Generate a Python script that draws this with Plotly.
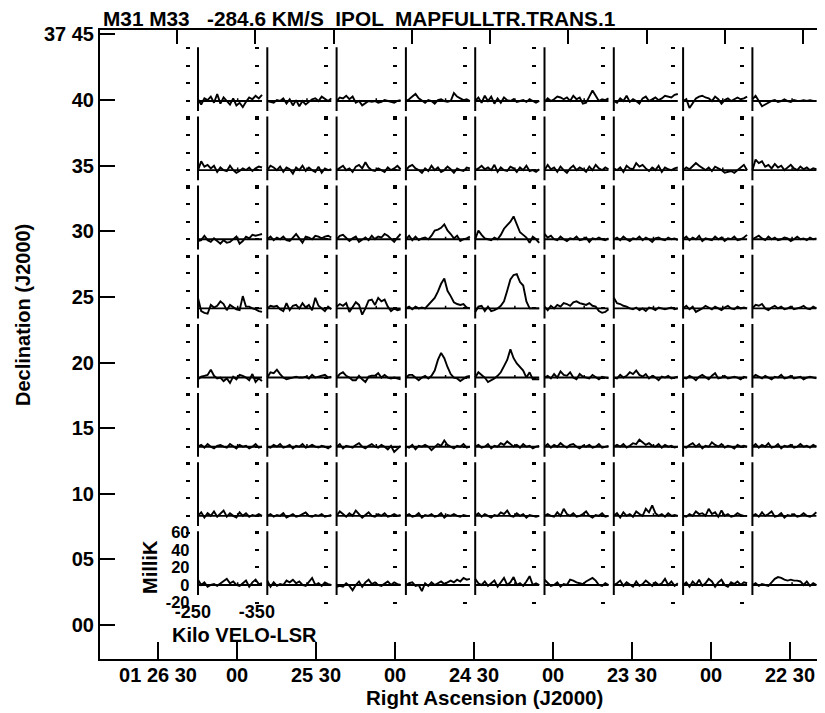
import plotly.graph_objects as go

# ---------------- data ----------------
TITLE = "M31 M33   -284.6 KM/S  IPOL  MAPFULLTR.TRANS.1"
RA_TICK_SEC = [1590, 1560, 1530, 1500, 1470, 1440, 1410, 1380, 1350]
RA_TICK_LABELS = ["01 26 30", "00", "25 30", "00", "24 30", "00", "23 30", "00", "22 30"]
DEC_TICK_MIN = [45, 40, 35, 30, 25, 20, 15, 10, 5, 0]
DEC_TICK_LABELS = ["37 45", "40", "35", "30", "25", "20", "15", "10", "05", "00"]
MK_TICKS = [-20, 0, 20, 40, 60]
MK_LABELS = ["-20", "0", "20", "40", "60"]
VEL_TICKS = [-250, -350]
VEL_LABELS = ["-250", "-350"]
VELOCITY = [-258, -263, -268, -273, -278, -283, -288, -293, -298, -303, -308,
            -313, -318, -323, -328, -333, -338, -343, -348, -353, -358]

SPEC_DEC40 = [
    [2, -4, 3, 1, 5, -2, 8, -3, 4, 0, -4, 3, -5, -2, -7, -1, 4, 2, 6, 3, 7],
    [0, -1, -2, 1, 0, 3, -3, 2, -5, 1, -6, 0, -4, -1, 2, 3, 0, 5, 2, 0, 3],
    [0, 4, 3, 6, 2, 5, -2, 0, -5, -2, 0, -1, 0, -2, -1, 1, 0, -1, -2, 0, 1],
    [0, 2, 5, 8, 3, 0, -2, 1, 0, -3, 1, 2, 0, -1, 0, 9, 5, 3, 1, 2, 0],
    [0, 4, -2, 6, 0, 5, -3, 3, -2, 4, 1, 0, 2, -1, 0, 1, -1, 2, 0, -2, 0],
    [-1, 3, 0, 2, 5, 4, 2, 4, 0, 6, 2, 4, -3, -2, 5, 12, 6, 0, 2, 1, 3],
    [0, -2, 3, 0, 6, -1, 2, 0, -3, 3, 5, 0, 2, 4, 1, 3, 6, 5, 4, 7, 8],
    [0, 2, -8, -2, 3, 5, 6, 4, 3, 0, 5, 2, -3, 1, 3, 0, 2, 4, 2, 3, 5],
    [2, 6, 0, -6, -4, -2, 0, 1, -1, 0, 2, 0, -1, 1, 0, 0, 1, 0, 1, 0, 0],
]
SPEC_DEC35 = [
    [0, 10, 4, 6, 2, 5, -2, 3, 0, -1, 5, 0, -3, -1, 2, 0, 3, -1, 2, 4, 3],
    [0, 5, 3, 0, 4, -2, 3, 1, -4, 3, 0, 5, -1, 3, 0, -2, 4, -3, 2, 0, 1],
    [0, 3, 5, 0, 2, -2, 4, 6, 2, 9, 3, 0, -1, 2, 0, -2, 3, 0, 2, 5, 1],
    [0, 4, 6, 2, 0, -3, 2, -1, 5, 0, 3, -2, 0, 4, 1, -3, 2, 0, -1, 3, 2],
    [0, 2, 5, 1, 3, 0, 6, -2, 3, 0, -1, 4, 2, -2, 3, 0, 5, -1, 0, -2, 1],
    [0, 6, 1, 3, -2, 4, 0, -3, 2, 5, 0, 3, 1, -2, 4, 0, 6, 2, 0, 3, 1],
    [2, 0, 3, -2, 5, 2, 1, 8, 4, 6, 2, -1, 3, 0, 5, -2, 3, 1, 0, 2, 3],
    [0, 3, 1, 4, 8, 5, 2, 0, 3, -1, 4, 2, 0, -3, -2, -1, -3, 0, 2, 6, 0],
    [0, 12, 8, 10, 4, 6, 2, 7, 3, 5, 0, 3, 6, 2, 0, 4, 1, 3, 0, 2, 1],
]
SPEC_DEC30 = [
    [-2, -1, 4, -1, -3, 1, -2, -5, -1, -4, -3, 0, 3, -5, -2, 3, 1, 5, 4, 5, 6],
    [0, 3, -1, 2, 0, 3, -1, -2, 2, 6, 1, -4, 3, 2, 0, 4, 3, 1, 3, 4, 2],
    [0, 4, 5, 2, -2, 1, 3, -3, 0, 2, -1, 4, 0, 3, 2, 6, 4, 0, -3, 2, 6],
    [0, 4, -1, 3, -1, 1, 2, 0, 4, 10, 11, 13, 17, 10, 6, 1, 4, -2, 0, 1, 3],
    [0, 10, 5, 1, 0, -1, 2, 0, 5, 12, 16, 20, 26, 17, 8, 5, 2, -4, 3, 0, -4],
    [6, 2, 4, 0, -1, 3, 0, -2, 1, 0, 3, -1, 0, 2, -3, 1, 0, 2, 0, -1, 1],
    [0, 2, -1, 3, 0, -2, 1, 0, 3, -1, 2, 0, -3, 1, 2, 0, -1, 2, 0, 1, -1],
    [0, 3, -1, 2, 0, 4, -2, 1, 0, -1, 3, 0, 2, -2, 1, 0, 3, -1, 0, 2, 5],
    [0, 2, 4, 1, -1, 3, 0, 2, -1, 0, 2, 1, -2, 0, 3, 0, 1, -1, 2, 0, 1],
]
SPEC_DEC25 = [
    [12, -3, -5, -6, 4, 1, 3, 8, 5, -2, 4, 1, -1, -2, 14, 2, 2, 0, -1, -3, -4],
    [0, 3, 2, 3, -1, -3, 6, -2, 3, 4, 0, 6, 1, 4, -2, 12, 3, 0, -3, 2, -1],
    [2, 5, 3, 6, -4, 2, 7, 4, -7, 0, 9, 10, 4, 12, 8, 10, 2, -3, 0, -2, -1],
    [0, 2, -1, 2, 0, 1, 0, 4, 7, 12, 19, 28, 34, 20, 14, 7, 5, 4, 5, 1, 0],
    [-4, 2, 3, -3, 2, -3, -2, 0, 3, 8, 20, 33, 38, 39, 30, 26, 8, 0, 0, 0, 0],
    [2, -2, 3, 0, 4, 2, 6, 5, 3, 7, 8, 6, 5, 4, 6, 3, 2, -3, -5, -4, -1],
    [12, 6, 5, 3, 2, 0, -1, 1, -2, 0, -3, 1, 0, -2, 1, 0, -1, 0, 1, -1, 0],
    [0, 3, -1, 2, -4, -2, 0, 3, 1, -1, 2, 0, -2, 1, 3, 0, -1, 2, 0, 1, 0],
    [0, 4, 3, 5, 0, -2, 1, 3, 0, 2, -1, 0, 2, -1, 0, 1, 3, 0, -1, 2, 0],
]
SPEC_DEC20 = [
    [-2, 1, 2, 3, 9, 2, -1, 0, -4, -1, -6, 1, -2, 3, 2, 0, -3, 4, -5, -1, -4],
    [0, 6, 5, 9, 4, 0, -2, -1, 0, 1, 0, 0, 1, -1, 3, 0, 1, 2, 3, 0, 1],
    [0, 4, 6, 2, 0, -3, -3, 2, -2, -5, 1, 2, 2, 5, 0, 3, 0, -1, 0, -1, -2],
    [0, 3, 3, 0, -3, 0, 2, -1, 2, 8, 20, 28, 22, 12, 4, 0, -1, -4, -1, 1, 2],
    [0, 6, 3, 0, -5, -3, -1, 2, 6, 13, 20, 32, 22, 16, 12, 8, 0, 6, -2, -2, -2],
    [0, 2, -1, 4, 0, 7, 3, 2, 6, 0, -2, 4, 1, 0, -1, 3, 0, -2, 1, 0, -1],
    [0, -1, 3, 0, 2, 6, 4, 8, 3, 1, 4, -1, 2, 0, -3, 1, 0, 2, -1, 0, 1],
    [0, -1, 2, 0, -3, 1, 3, 0, -2, 2, 5, -1, 0, 2, -1, 0, 1, 0, -2, 1, 0],
    [0, 3, 1, -1, 2, 0, -2, 1, 0, 3, -1, 0, 2, -1, 0, 1, -2, 0, 1, 0, -1],
]
SPEC_DEC15 = [
    [0, 2, -1, 3, 0, -2, 1, 2, 0, -1, 3, 0, -2, 2, 0, 1, -2, 0, 3, -1, 0],
    [0, -1, 2, 0, 3, -1, 0, 2, -2, 1, 0, 3, -1, 0, 2, 0, -1, 1, 0, -2, 1],
    [0, 3, -2, 1, 0, -1, 2, 4, 0, -2, 1, 3, 0, -1, 2, 0, -3, 1, -6, -2, 1],
    [0, -1, 2, -3, 1, 0, 2, 0, -4, -1, 3, 1, 7, 2, 0, -2, 1, 0, 3, -1, 0],
    [0, 2, -1, 0, 3, -2, 1, 0, 4, 2, 6, 3, 0, 2, -1, 3, 0, 1, -2, 0, 1],
    [0, 3, -1, 2, 0, 4, 1, -1, 2, 3, 0, -2, 1, 0, 2, -1, 0, 3, -1, 0, 1],
    [0, 2, 0, 3, -1, 1, 4, 3, 8, 5, 2, 4, 1, 0, 3, -1, 2, 0, 1, -1, 0],
    [0, -1, 2, 4, 0, 3, -2, 1, 0, 5, 2, 0, 3, -1, 1, 0, -2, 2, 0, 1, 0],
    [0, 3, -1, 2, 0, 4, -1, 0, 3, -2, 1, 0, 2, -1, 0, 3, 0, 1, -1, 2, 0],
]
SPEC_DEC10 = [
    [0, 4, -2, 3, 0, 5, -1, 2, 6, -1, 3, 0, -2, 4, 0, 3, -1, 1, 0, 2, 0],
    [0, 2, -1, 1, 0, 3, -2, 0, 2, -1, 0, 2, 4, 0, -1, 1, 0, 2, -1, 0, 1],
    [0, 5, 2, -1, 3, 0, 6, 2, -2, 1, 4, 0, -1, 2, 0, 3, -1, 0, 2, 0, 1],
    [0, 2, -1, 0, 3, -2, 1, 0, 2, -1, 0, 3, -2, 1, 0, 2, 0, -1, 1, 0, 0],
    [0, 3, -1, 2, 0, -2, 1, 0, 4, 2, 6, 0, -1, 3, 0, 2, -2, 1, 0, -1, 0],
    [0, 2, 0, -1, 4, 0, 8, 2, 0, 3, -1, 0, 2, 5, 0, -2, 1, 0, 3, -1, 0],
    [0, 3, -2, 4, 0, 2, -1, 5, 2, 0, 8, 4, 12, 3, 0, 2, -1, 3, 0, 1, 0],
    [0, -1, 2, 0, 5, 2, 3, 0, 8, 2, 4, -1, 6, 0, 2, -1, 0, 3, 1, 0, 0],
    [0, 2, -1, 4, 0, 2, 5, -1, 0, 3, -2, 1, 0, 2, -1, 0, 3, 0, -1, 1, 4],
]
SPEC_DEC05 = [
    [6, 0, 3, -2, 0, 1, -1, 2, 4, 7, 2, 4, 0, -1, 2, 5, -2, 3, 6, 1, 2],
    [5, -2, 3, -1, 1, 0, 5, 3, 6, 2, 4, 0, -1, 3, 8, 0, 2, -1, 3, 1, 0],
    [-2, -1, -2, 2, -1, -6, 0, 4, -2, 3, 6, 1, 3, 0, -1, 2, 4, 0, 3, 1, 0],
    [0, 2, 3, -1, 0, -7, 2, -1, 3, 0, 2, 4, 1, 3, 5, 3, 6, 4, 8, 6, 7],
    [7, 2, 0, 4, -1, 2, 5, -2, 3, 8, 0, 3, 9, 0, 2, -1, 4, 10, 0, 2, 0],
    [6, 3, -1, 0, 3, -2, 1, 0, 6, 5, 3, 2, 1, 4, 6, 8, 5, 0, -1, 2, 0],
    [0, 2, 5, -1, 3, 0, -2, 4, -1, 1, 5, 2, -1, 3, 0, 2, 7, 0, 4, -1, 2],
    [0, 3, -2, 4, 0, 6, -1, 2, 7, 4, -2, 3, 6, 0, -2, 3, 1, 4, 0, 3, 2],
    [0, 2, -1, 1, 0, -1, 3, 7, 9, 8, 6, 5, 6, 5, 5, 4, 0, 4, -1, 2, 0],
]
ROWS = [SPEC_DEC40, SPEC_DEC35, SPEC_DEC30, SPEC_DEC25,
        SPEC_DEC20, SPEC_DEC15, SPEC_DEC10, SPEC_DEC05]

# ---------------- layout constants ----------------
W, H = 825, 713
OFF = 8          # the page places the figure 8 px from the window corner
FONT = "Liberation Sans, Arial, Helvetica, sans-serif"


def fx(px):
    """window pixel (x) -> paper fraction"""
    return (px - OFF) / W


def fy(py):
    """window pixel (y) -> paper fraction"""
    return 1 - (py - OFF) / H


FRAME_L, FRAME_R, FRAME_T, FRAME_B = 100, 825, 30, 659
RA_BOT_PX0, RA_BOT_SCALE = 158, 79 / 30      # px of 1590 s, px per second
RA_TOP_PX0, RA_TOP_SCALE = 177, 626 / 240
DEC_PX0, DEC_SCALE = 625, 13.125              # px of 0', px per arcmin

COL0, COL_STEP = 198, 69.3
ROW0, ROW_STEP = 101, 69.14
PX_PER_KMS = 0.64
PX_PER_MK = 0.88
V_LEFT, V_RIGHT = VELOCITY[0], VELOCITY[-1]
BASE_TICK_V = -320
LINE_W = 1.9


def bfont(size):
    return dict(family=FONT, size=size, color="black", weight="bold")


bold = bfont(20)

fig = go.Figure()

# main frame subplots (empty traces so the axes are drawn)
for xa, ya in (("x", "y"), ("x2", "y"), ("x", "y2")):
    fig.add_trace(go.Scatter(x=[], y=[], xaxis=xa, yaxis=ya, showlegend=False,
                             hoverinfo="skip"))

ra_bot_range = [RA_TICK_SEC[0] + (RA_BOT_PX0 - FRAME_L) / RA_BOT_SCALE,
                RA_TICK_SEC[0] - (FRAME_R - RA_BOT_PX0) / RA_BOT_SCALE]
ra_top_range = [RA_TICK_SEC[0] + (RA_TOP_PX0 - FRAME_L) / RA_TOP_SCALE,
                RA_TICK_SEC[0] - (FRAME_R - RA_TOP_PX0) / RA_TOP_SCALE]
dec_range = [-(FRAME_B - DEC_PX0) / DEC_SCALE, (DEC_PX0 - FRAME_T) / DEC_SCALE]

layout = dict(
    width=W, height=H, autosize=False,
    margin=dict(l=0, r=0, t=0, b=0, pad=0, autoexpand=False),
    paper_bgcolor="white", plot_bgcolor="rgba(0,0,0,0)",
    showlegend=False, font=bold,
    xaxis=dict(domain=[fx(FRAME_L), fx(FRAME_R)], range=ra_bot_range,
               anchor="y", side="bottom", showline=True, linewidth=2,
               linecolor="black", ticks="inside", ticklen=17, tickwidth=2,
               tickcolor="black", tickvals=RA_TICK_SEC,
               ticktext=RA_TICK_LABELS, tickfont=bold,
               ticklabelstandoff=-3, automargin=False,
               showgrid=False, zeroline=False),
    xaxis2=dict(overlaying="x", range=ra_top_range, anchor="y", side="top",
                showline=True, linewidth=2, linecolor="black",
                ticks="inside", ticklen=14, tickwidth=2, tickcolor="black",
                tickvals=RA_TICK_SEC, showticklabels=False, automargin=False,
                showgrid=False, zeroline=False),
    yaxis=dict(domain=[fy(FRAME_B), fy(FRAME_T)], range=dec_range, anchor="x",
               showline=True, linewidth=2, linecolor="black",
               ticks="inside", ticklen=15, tickwidth=2, tickcolor="black",
               tickvals=DEC_TICK_MIN, ticktext=DEC_TICK_LABELS, tickfont=bold,
               ticklabelstandoff=0, automargin=False,
               showgrid=False, zeroline=False),
    yaxis2=dict(overlaying="y", range=dec_range, anchor="x", side="right",
                showline=False, ticks="inside", ticklen=4, tickwidth=2,
                tickcolor="black", tickvals=DEC_TICK_MIN, automargin=False,
                showticklabels=False, showgrid=False, zeroline=False),
)

shapes = []
n = 3
for r, row in enumerate(ROWS):
    base = ROW0 + r * ROW_STEP
    for c, spec in enumerate(row):
        left = COL0 + c * COL_STEP
        xa, ya = f"x{n}", f"y{n}"
        labelled = (r == len(ROWS) - 1 and c == 0)
        x_dom_px = (left - 20, left + 72)
        x_rng = [V_LEFT + 20 / PX_PER_KMS, V_LEFT - 72 / PX_PER_KMS]
        y_dom = [fy(base + 24 * PX_PER_MK), fy(base - 64 * PX_PER_MK)]
        xdict = dict(domain=[fx(x_dom_px[0]), fx(x_dom_px[1])], range=x_rng,
                     showgrid=False, zeroline=False, showline=False,
                     automargin=False)
        if labelled:
            xdict.update(anchor="free", position=fy(599), ticks="",
                         tickvals=VEL_TICKS, ticktext=VEL_LABELS,
                         tickfont=bfont(18))
        else:
            xdict.update(anchor=ya, visible=False)
        ydict = dict(domain=y_dom, range=[-24, 64], anchor="free",
                     position=fx(left - 8.5), side="left", automargin=False,
                     tickvals=MK_TICKS, showgrid=False, zeroline=False,
                     showline=False)
        if labelled:
            ydict.update(ticks="", ticktext=MK_LABELS, showticklabels=True,
                         tickfont=bfont(16.5))
        else:
            ydict.update(ticks="outside", ticklen=4, tickwidth=2,
                         tickcolor="black", showticklabels=False)
        layout[f"xaxis{n}"] = xdict
        layout[f"yaxis{n}"] = ydict

        fig.add_trace(go.Scatter(x=VELOCITY, y=spec, xaxis=xa, yaxis=ya,
                                 mode="lines",
                                 line=dict(color="black", width=LINE_W),
                                 showlegend=False, hoverinfo="skip"))
        # panel axis line, zero baseline and its tick
        shapes.append(dict(type="line", xref=xa, yref=ya, x0=V_LEFT, x1=V_LEFT,
                           y0=61, y1=-11.5, line=dict(color="black", width=2)))
        shapes.append(dict(type="line", xref=xa, yref=ya, x0=V_LEFT, x1=V_RIGHT,
                           y0=0, y1=0, line=dict(color="black", width=LINE_W)))
        shapes.append(dict(type="line", xref=xa, yref=ya, x0=BASE_TICK_V,
                           x1=BASE_TICK_V, y0=0, y1=3,
                           line=dict(color="black", width=1.5)))
        n += 1

layout["shapes"] = shapes
layout["annotations"] = [
    dict(text=TITLE, xref="paper", yref="paper", x=fx(101), y=fy(18),
         xanchor="left", yanchor="middle", showarrow=False, font=bfont(20.8)),
    dict(text="Declination (J2000)", xref="paper", yref="paper", x=fx(23),
         y=fy(315), textangle=-90, xanchor="center", yanchor="middle",
         showarrow=False, font=bold),
    dict(text="Right Ascension (J2000)", xref="paper", yref="paper",
         x=fx(484), y=fy(697), xanchor="center", yanchor="middle",
         showarrow=False, font=bfont(20.5)),
    dict(text="MilliK", xref="paper", yref="paper", x=fx(150), y=fy(567),
         textangle=-90, xanchor="center", yanchor="middle", showarrow=False,
         font=bold),
    dict(text="Kilo VELO-LSR", xref="paper", yref="paper", x=fx(244),
         y=fy(635), xanchor="center", yanchor="middle", showarrow=False,
         font=bold),
]

fig.update_layout(**layout)
fig.write_html("out.html")
